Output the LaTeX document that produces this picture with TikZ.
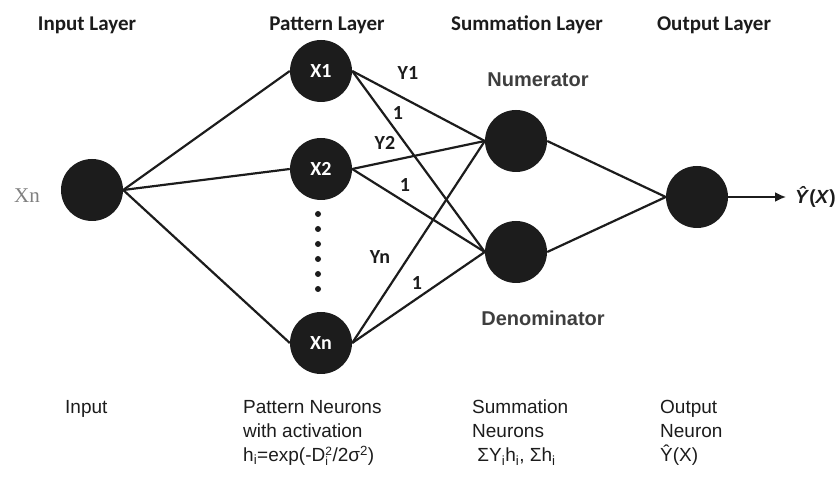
\documentclass[tikz,border=0pt]{standalone}
\usepackage{fontspec}
\setmainfont{Liberation Sans}
\newfontfamily\calib{Carlito}
\newfontfamily\serifxn{Liberation Serif}
\usetikzlibrary{arrows.meta}
\definecolor{ink}{HTML}{1C1C1C}
\tikzset{
  x=1pt, y=-1pt,
  neuron/.style={circle, fill=ink, draw=none, minimum size=62pt, inner sep=0pt,
                 text=white, font=\calib\bfseries\fontsize{20}{22}\selectfont},
  conn/.style={draw=ink, line width=2.2pt},
  head/.style={font=\calib\bfseries\fontsize{21}{23}\selectfont, text=ink},
  wlabel/.style={font=\calib\bfseries\fontsize{20}{22}\selectfont, text=ink, inner sep=0pt},
  sumlabel/.style={font=\bfseries\fontsize{20}{22}\selectfont, text=ink!85!white},
  note/.style={font=\fontsize{19}{24}\selectfont, text=ink, align=left, anchor=north west, inner sep=0pt},
  dotmark/.style={circle, fill=ink, minimum size=6pt, inner sep=0pt}
}
\begin{document}
\begin{tikzpicture}
\useasboundingbox (0,0) rectangle (839,481);

% layer headings
\node[head] (hin)  at (87,25)  {Input Layer};
\node[head] (hpat) at (327,25) {Pattern Layer};
\node[head] (hsum) at (527,25) {Summation Layer};
\node[head] (hout) at (714,25) {Output Layer};

% neurons
\node[neuron] (in)  at (92,190)  {};
\node[neuron] (x1)  at (321,71)  {X1};
\node[neuron] (x2)  at (321,169) {X2};
\node[neuron] (xn)  at (321,343) {Xn};
\node[neuron] (num) at (516,141) {};
\node[neuron] (den) at (516,252) {};
\node[neuron] (out) at (697,197) {};

% vertical ellipsis between X2 and Xn
\foreach \k in {0,...,5} {
  \node[dotmark] (d\k) at (318,214+15*\k) {};
}

% input value
\node[font=\serifxn\fontsize{21}{23}\selectfont, text=gray] (xin) at (27,196) {Xn};

% input -> pattern
\draw[conn] (in.east) -- (x1.west);
\draw[conn] (in.east) -- (x2.west);
\draw[conn] (in.east) -- (xn.west);

% pattern -> summation
\draw[conn] (x1.east) -- (num.west);
\draw[conn] (x1.east) -- (den.west);
\draw[conn] (x2.east) -- (num.west);
\draw[conn] (x2.east) -- (den.west);
\draw[conn] (xn.east) -- (num.west);
\draw[conn] (xn.east) -- (den.west);

% summation -> output
\draw[conn] (num.east) -- (out.west);
\draw[conn] (den.east) -- (out.west);

% output arrow
\coordinate (yend) at (786,197);
\draw[draw=ink, line width=1.8pt, -{Latex[length=11pt,width=10pt]}] (out.east) -- (yend);
\node[font=\bfseries\fontsize{19}{21}\selectfont, text=ink, anchor=west, inner sep=0pt] (yhat) at (795,197) {\textit{Ŷ}(\textit{X})};

% weights
\node[wlabel] (wy1) at (408,73)  {Y1};
\node[wlabel] (w11) at (398,113) {1};
\node[wlabel] (wy2) at (385,143) {Y2};
\node[wlabel] (w12) at (405,185) {1};
\node[wlabel] (wyn) at (380,257) {Yn};
\node[wlabel] (w1n) at (417,283) {1};

% summation neuron names
\node[sumlabel] (lnum) at (538,80)  {Numerator};
\node[sumlabel] (lden) at (543,318) {Denominator};

% bottom descriptions
\node[note] (nin)  at (65,400) {Input};
\node[note] (npat) at (243,400) {Pattern Neurons\\with activation\\h\textsubscript{i}=exp(-D$_{\mbox{\fontsize{12}{12}\selectfont i}}^{\mbox{\fontsize{12}{12}\selectfont 2}}$/2σ\textsuperscript{2})};
\node[note] (nsum) at (472,400) {Summation\\Neurons\\\ ΣY\textsubscript{i}h\textsubscript{i}, Σh\textsubscript{i}};
\node[note] (nout) at (660,400) {Output\\Neuron\\Ŷ(X)};
\end{tikzpicture}
\end{document}
